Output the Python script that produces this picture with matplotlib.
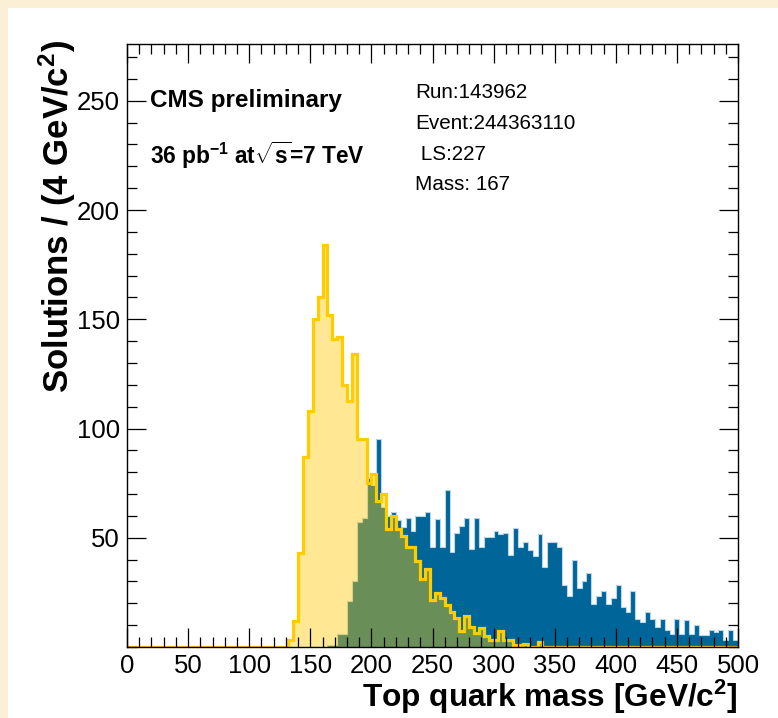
import matplotlib
matplotlib.use('Agg')
import matplotlib.pyplot as plt
from matplotlib.patches import Rectangle
from matplotlib.ticker import MultipleLocator, FixedLocator
import numpy as np

# 4 GeV bins from 0 to 500
bin_width = 4
mass_edges = np.arange(0, 500 + bin_width, bin_width)

# yellow (hatched) histogram, first bin starts at 132 GeV
yellow_first = 132
yellow_counts = [3, 12, 43, 87, 108, 150, 160, 184, 152, 141,
                 142, 120, 112.5, 134, 95, 95, 75, 79, 67, 70,
                 54, 60, 54, 51, 46, 46, 39.5, 31, 35.5, 21.5,
                 24.5, 22.5, 19, 16, 13.5, 7.5, 14, 9, 6.5, 8.5,
                 5, 3, 3, 7.5, 3, 3, 1, 1, 1.5, 0,
                 0, 2.5]

# blue histogram, first bin starts at 164 GeV
blue_first = 164
blue_counts = [1, 1, 6, 6, 21, 30, 57, 59, 77.5, 74,
               95, 64, 60, 62, 58, 55, 59, 53, 60, 60,
               62, 46, 58.5, 46, 72, 43.5, 52, 55.5, 59, 45,
               59, 46, 50.5, 50.5, 53, 51.5, 52, 42, 54.5, 46,
               48, 44.5, 41.5, 51.5, 36.5, 48, 48, 46, 28.5, 23.5,
               40, 27, 30, 34, 19.5, 23.5, 25.5, 19.5, 22.5, 28.5,
               18.5, 16, 25.5, 13, 11.5, 16, 13, 9, 13, 8,
               6, 13, 6, 12.5, 6, 10, 5.5, 5.5, 8, 7,
               8, 3, 8, 3]

x_ticks = [0, 50, 100, 150, 200, 250, 300, 350, 400, 450, 500]
y_ticks = [50, 100, 150, 200, 250]

info_lines = ['Run:143962', 'Event:244363110', ' LS:227', 'Mass: 167']

def full_hist(first, counts):
    h = np.zeros(len(mass_edges) - 1)
    i0 = first // bin_width
    h[i0:i0 + len(counts)] = counts
    return h

plt.rcParams['font.family'] = ['Liberation Sans', 'DejaVu Sans']
plt.rcParams['mathtext.fontset'] = 'custom'
plt.rcParams['mathtext.rm'] = 'Liberation Sans'
plt.rcParams['mathtext.bf'] = 'Liberation Sans:bold'
plt.rcParams['mathtext.it'] = 'Liberation Sans:italic'

W, H = 778, 718
fig = plt.figure(figsize=(W / 100, H / 100), dpi=100)
fig.patch.set_facecolor('#fbefd6')
# white panel, cream border on the left and top
bg = fig.add_axes([8 / W, 0, 1 - 8 / W, 1 - 8 / H], zorder=-5)
bg.axis('off')
bg.add_patch(Rectangle((0, 0), 1, 1, transform=bg.transAxes, facecolor='white', edgecolor='none'))

ax = fig.add_axes([127 / W, 71 / H, 611 / W, 603 / H], zorder=1)
ax.set_facecolor('white')

blue = full_hist(blue_first, blue_counts)
yellow = full_hist(yellow_first, yellow_counts)

ax.stairs(blue, mass_edges, fill=True, color='#006598', zorder=1)
ax.stairs(blue, mass_edges, fill=False, color='#b9d6e6', linewidth=0.8, zorder=1.1)
ax.stairs(yellow, mass_edges, fill=True, color='#ffc800', alpha=0.42, linewidth=0, zorder=1.2)
ax.stairs(yellow, mass_edges, fill=False, color='#ffcc00', linewidth=2.3, zorder=1.3)

ax.set_xlim(0, 500)
ax.set_ylim(0, 276)
ax.xaxis.set_major_locator(FixedLocator(x_ticks))
ax.xaxis.set_minor_locator(MultipleLocator(10))
ax.yaxis.set_major_locator(FixedLocator(y_ticks))
ax.yaxis.set_minor_locator(MultipleLocator(10))
ax.tick_params(which='both', direction='in', top=True, right=True, width=0.9, color='black')
ax.tick_params(which='major', length=14, labelsize=18.5)
ax.tick_params(axis='x', which='major', pad=5)
ax.tick_params(axis='y', which='major', pad=5)
ax.tick_params(which='minor', length=7)
for sp in ax.spines.values():
    sp.set_linewidth(1.0)
    sp.set_zorder(3)

fig.text(738 / W, 1 - 707 / H, r'Top quark mass [GeV/c$^{\mathbf{2}}$]', ha='right', va='baseline',
         fontsize=22.8, fontweight='bold')
fig.text(57 / W, 1 - 40 / H, r'Solutions / (4 GeV/c$^{\mathbf{2}}$)', ha='center', va='top',
         rotation=90, fontsize=25, fontweight='bold')

fig.text(150 / W, 1 - 101 / H, 'CMS preliminary', ha='left', va='center',
         fontsize=17.5, fontweight='bold')
fig.text(150 / W, 1 - 155 / H, r'36 pb$^{\mathbf{-1}}$ at$\sqrt{\mathbf{s}}$=7 TeV', ha='left',
         va='center', fontsize=16.3, fontweight='bold')

for i, line in enumerate(info_lines):
    fig.text(415 / W, 1 - (93 + 30.5 * i) / H, line, ha='left', va='center', fontsize=14.9)

fig.savefig('out.png', dpi=100)
